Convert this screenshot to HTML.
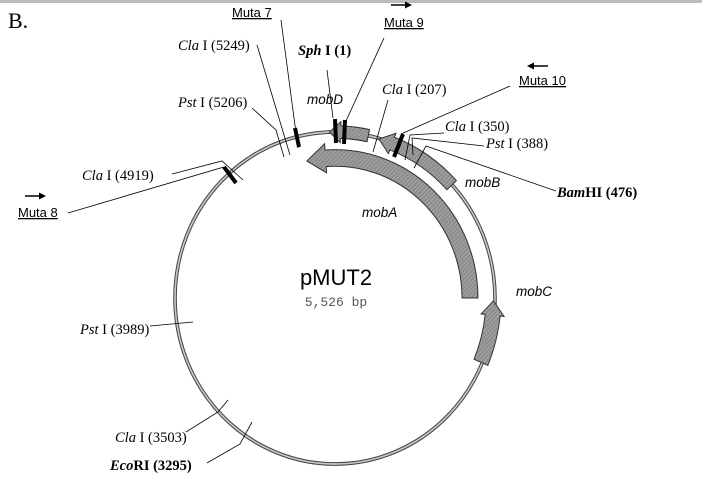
<!DOCTYPE html>
<html><head><meta charset="utf-8"><style>
html,body{margin:0;padding:0;background:#fff;width:702px;height:498px;overflow:hidden}
svg{display:block}
.s{font-family:"Liberation Serif",serif;font-size:14.5px}
.a{font-family:"Liberation Sans",sans-serif;font-size:13px}
.ai{font-family:"Liberation Sans",sans-serif;font-size:13.5px;font-style:italic}
</style></head><body>
<svg width="702" height="498" viewBox="0 0 702 498" xmlns="http://www.w3.org/2000/svg">
<defs>
<pattern id="h" width="3" height="3" patternUnits="userSpaceOnUse" patternTransform="rotate(45)">
<rect width="3" height="3" fill="#9c9c9c"/><line x1="0" y1="0" x2="0" y2="3" stroke="#707070" stroke-width="1"/>
</pattern>
</defs>
<rect x="0" y="0" width="702" height="3" fill="#bbb"/>
<text x="8" y="28" font-family="Liberation Serif,serif" font-size="22">B.</text>
<g id="ring" transform="translate(335,298) scale(1,1.0375)">
<circle r="160" fill="none" stroke="#444" stroke-width="3.6"/>
<circle r="160" fill="none" stroke="#c8c8c8" stroke-width="1.6"/>
<g id="genes"></g>
</g>
<g stroke="#000" stroke-width="0.8" fill="none">
<polyline points="281,20 298,148"/>
<polyline points="257,45 290,155"/>
<polyline points="252,108 276,130 284,157"/>
<polyline points="172,174 222,161 243,180"/>
<polyline points="68,213 224,167 231,173"/>
<polyline points="327,70 333,118"/>
<polyline points="384,38 346,121"/>
<polyline points="388,100 373,152"/>
<polyline points="510,86 401,134"/>
<polyline points="444,133 410,135 405,160"/>
<polyline points="484,146 412,138 413,155"/>
<polyline points="556,191 426,146 414,168"/>
<polyline points="150,326 193,322"/>
<polyline points="186,432 218,412 228,400"/>
<polyline points="207,463 240,444 252,422"/>
</g>
<g stroke="#000" stroke-width="4">
<line x1="295" y1="128" x2="299" y2="147"/>
<line x1="224" y1="167" x2="236" y2="183"/>
<line x1="335" y1="119" x2="336" y2="143"/>
<line x1="345" y1="120" x2="344" y2="144"/>
<line x1="403" y1="134" x2="394" y2="157"/>
</g>
<g fill="#000">
<path d="M25 196 H42" stroke="#000" stroke-width="1.5"/><path d="M46 196 L39 192.5 L39 199.5Z"/>
<path d="M391 5 H408" stroke="#000" stroke-width="1.5"/><path d="M412 5 L405 1.5 L405 8.5Z"/>
<path d="M532 66 H548" stroke="#000" stroke-width="1.5"/><path d="M527 66 L534 62.5 L534 69.5Z"/>
</g>
<text x="232" y="17" class="a" text-decoration="underline">Muta 7</text>
<text x="18" y="217" class="a" text-decoration="underline">Muta 8</text>
<text x="384" y="27" class="a" text-decoration="underline">Muta 9</text>
<text x="519" y="85" class="a" text-decoration="underline">Muta 10</text>
<text x="178" y="50" class="s"><tspan font-style="italic">Cla</tspan> I (5249)</text>
<text x="178" y="107" class="s"><tspan font-style="italic">Pst</tspan> I (5206)</text>
<text x="82" y="180" class="s"><tspan font-style="italic">Cla</tspan> I (4919)</text>
<text x="298" y="55" class="s" font-weight="bold"><tspan font-style="italic">Sph</tspan> I (1)</text>
<text x="382" y="94" class="s"><tspan font-style="italic">Cla</tspan> I (207)</text>
<text x="445" y="131" class="s"><tspan font-style="italic">Cla</tspan> I (350)</text>
<text x="486" y="148" class="s"><tspan font-style="italic">Pst</tspan> I (388)</text>
<text x="557" y="197" class="s" font-weight="bold"><tspan font-style="italic">Bam</tspan>HI (476)</text>
<text x="80" y="334" class="s"><tspan font-style="italic">Pst</tspan> I (3989)</text>
<text x="115" y="442" class="s"><tspan font-style="italic">Cla</tspan> I (3503)</text>
<text x="110" y="470" class="s" font-weight="bold"><tspan font-style="italic">Eco</tspan>RI (3295)</text>
<text x="307" y="104" class="ai">mobD</text>
<text x="465" y="187" class="ai">mobB</text>
<text x="362" y="217" class="ai">mobA</text>
<text x="516" y="296" class="ai">mobC</text>
<text x="336" y="285" text-anchor="middle" font-family="Liberation Sans,sans-serif" font-size="22">pMUT2</text>
<text x="336" y="306" text-anchor="middle" font-family="Liberation Mono,monospace" font-size="13" fill="#555">5,526 bp</text>
</svg>
<script>
function P(r,t){t=t*Math.PI/180;return (r*Math.sin(t)).toFixed(2)+","+(-r*Math.cos(t)).toFixed(2);}
function gene(r1,r2,tip,end,head,hw){
 var s=tip<end?1:-1, hb=tip+s*head, rm=(r1+r2)/2;
 var d="M"+P(rm,tip)+" L"+P(r1-hw,hb)+" L"+P(r1,hb)+" A"+r1+","+r1+" 0 0,"+(s>0?1:0)+" "+P(r1,end)+
 " L"+P(r2,end)+" A"+r2+","+r2+" 0 0,"+(s>0?0:1)+" "+P(r2,hb)+" L"+P(r2+hw,hb)+" Z";
 return '<path d="'+d+'" fill="url(#h)" stroke="#333" stroke-width="1"/>';
}
document.getElementById("genes").innerHTML=
 gene(127,143,-12,90,8,6)+gene(153,166,16,47,5,4)+gene(154,166,-2,12,4,4)+gene(151,166,91,113,5,4);
</script>
</body></html>
